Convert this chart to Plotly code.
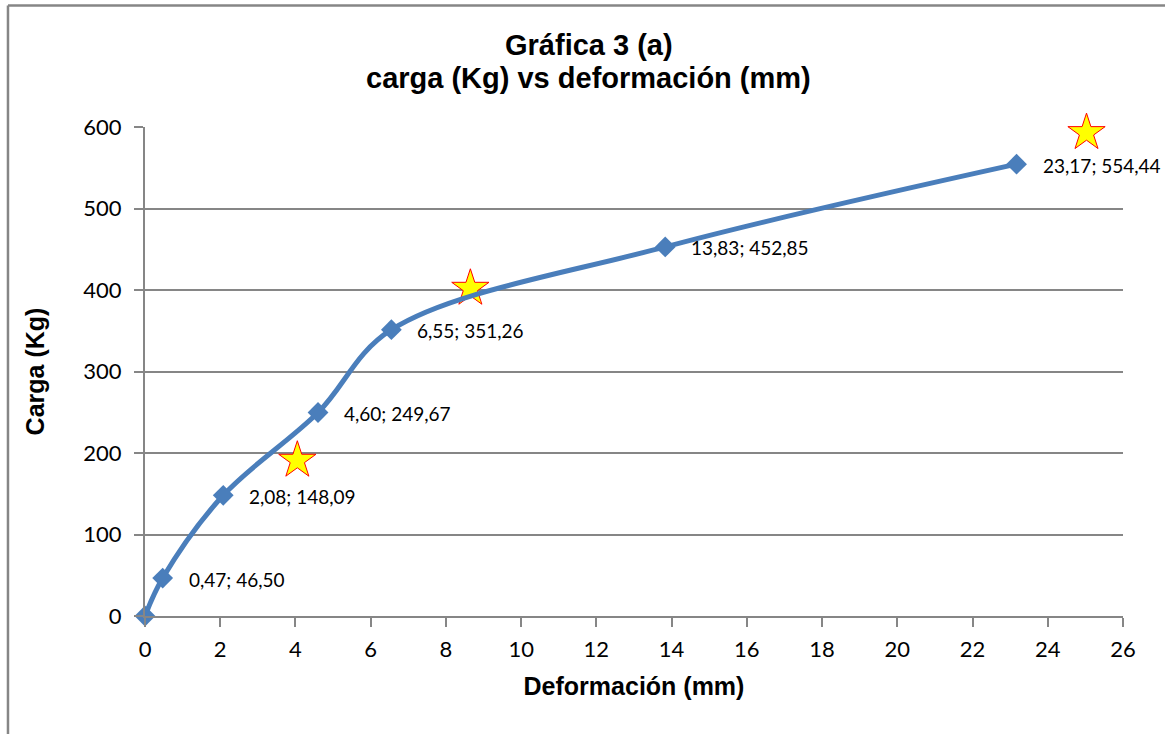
import plotly.graph_objects as go

# Ensayo: carga aplicada frente a deformación medida
deformacion_mm = [0, 0.47, 2.08, 4.60, 6.55, 13.83, 23.17]
carga_kg = [0, 46.50, 148.09, 249.67, 351.26, 452.85, 554.44]

# Puntos marcados con estrella
estrella_x = [4.05, 8.65, 25.03]
estrella_y = [191, 402, 593]

x_ticks = list(range(0, 27, 2))
y_ticks = list(range(0, 601, 100))

titulo = ["Gráfica 3 (a)", "carga (Kg) vs deformación (mm)"]

AZUL = "#4A7EBB"
GRIS = "#868686"
FUENTE_NUM = "Lato, Calibri, sans-serif"
FUENTE_TIT = "Liberation Sans, Arial, sans-serif"

fig = go.Figure()

fig.add_trace(go.Scatter(
    x=estrella_x, y=estrella_y,
    mode="markers",
    marker=dict(symbol="star", size=28, color="#FFFF00",
                line=dict(color="#FF0000", width=1)),
    cliponaxis=False, showlegend=False,
))

fig.add_trace(go.Scatter(
    x=deformacion_mm, y=carga_kg,
    mode="lines+markers",
    line=dict(color=AZUL, width=5, shape="spline", smoothing=1.0),
    marker=dict(symbol="diamond", size=16, color=AZUL),
    cliponaxis=False, hoverinfo="x+y", showlegend=False,
))


def etiqueta(v):
    return f"{v:.2f}".replace(".", ",")


for xv, yv in zip(deformacion_mm, carga_kg):
    if xv == 0 and yv == 0:
        continue
    fig.add_annotation(
        x=xv, y=yv, xref="x", yref="y",
        text=f"{etiqueta(xv)}; {etiqueta(yv)}",
        showarrow=False, xanchor="left", yanchor="middle",
        xshift=24, yshift=-1,
        font=dict(family=FUENTE_NUM, size=19, color="#000000"),
    )

# Título en dos líneas
for linea, y_pos in zip(titulo, [1.1677, 1.1002]):
    fig.add_annotation(
        x=0.4535, y=y_pos, xref="paper", yref="paper",
        text=linea, showarrow=False, xanchor="center", yanchor="middle",
        font=dict(family=FUENTE_TIT, size=29, color="#000000", weight="bold"),
    )

fig.update_layout(
    width=1165, height=734,
    margin=dict(l=145, r=42, t=127, b=118),
    paper_bgcolor="white", plot_bgcolor="white",
    xaxis=dict(
        range=[0, 26], tickvals=x_ticks, ticktext=[str(t) for t in x_ticks],
        showgrid=False, zeroline=False,
        showline=True, linecolor=GRIS, linewidth=2,
        ticks="outside", ticklen=9, tickcolor=GRIS, tickwidth=2,
        ticklabelstandoff=4,
        tickfont=dict(family=FUENTE_NUM, size=22, color="#000000"),
        title=dict(text="Deformación (mm)", standoff=16,
                   font=dict(family=FUENTE_TIT, size=25, color="#000000",
                             weight="bold")),
    ),
    yaxis=dict(
        range=[0, 600], tickvals=y_ticks, ticktext=[str(t) for t in y_ticks],
        showgrid=True, gridcolor=GRIS, gridwidth=2, zeroline=False,
        showline=True, linecolor=GRIS, linewidth=2,
        ticks="outside", ticklen=9, tickcolor=GRIS, tickwidth=2,
        ticklabelstandoff=8,
        tickfont=dict(family=FUENTE_NUM, size=22, color="#000000"),
        title=dict(text="Carga (Kg)", standoff=32,
                   font=dict(family=FUENTE_TIT, size=25, color="#000000",
                             weight="bold")),
    ),
)

# Marco del área del gráfico (bordes superior e izquierdo)
fig.add_shape(type="line", xref="paper", yref="paper",
              x0=-0.1401, x1=1.2, y0=1.2485, y1=1.2485,
              line=dict(color=GRIS, width=2.5))
fig.add_shape(type="line", xref="paper", yref="paper",
              x0=-0.1401, x1=-0.1401, y0=-0.5, y1=1.2485,
              line=dict(color=GRIS, width=2.5))

fig.write_html("out.html")
